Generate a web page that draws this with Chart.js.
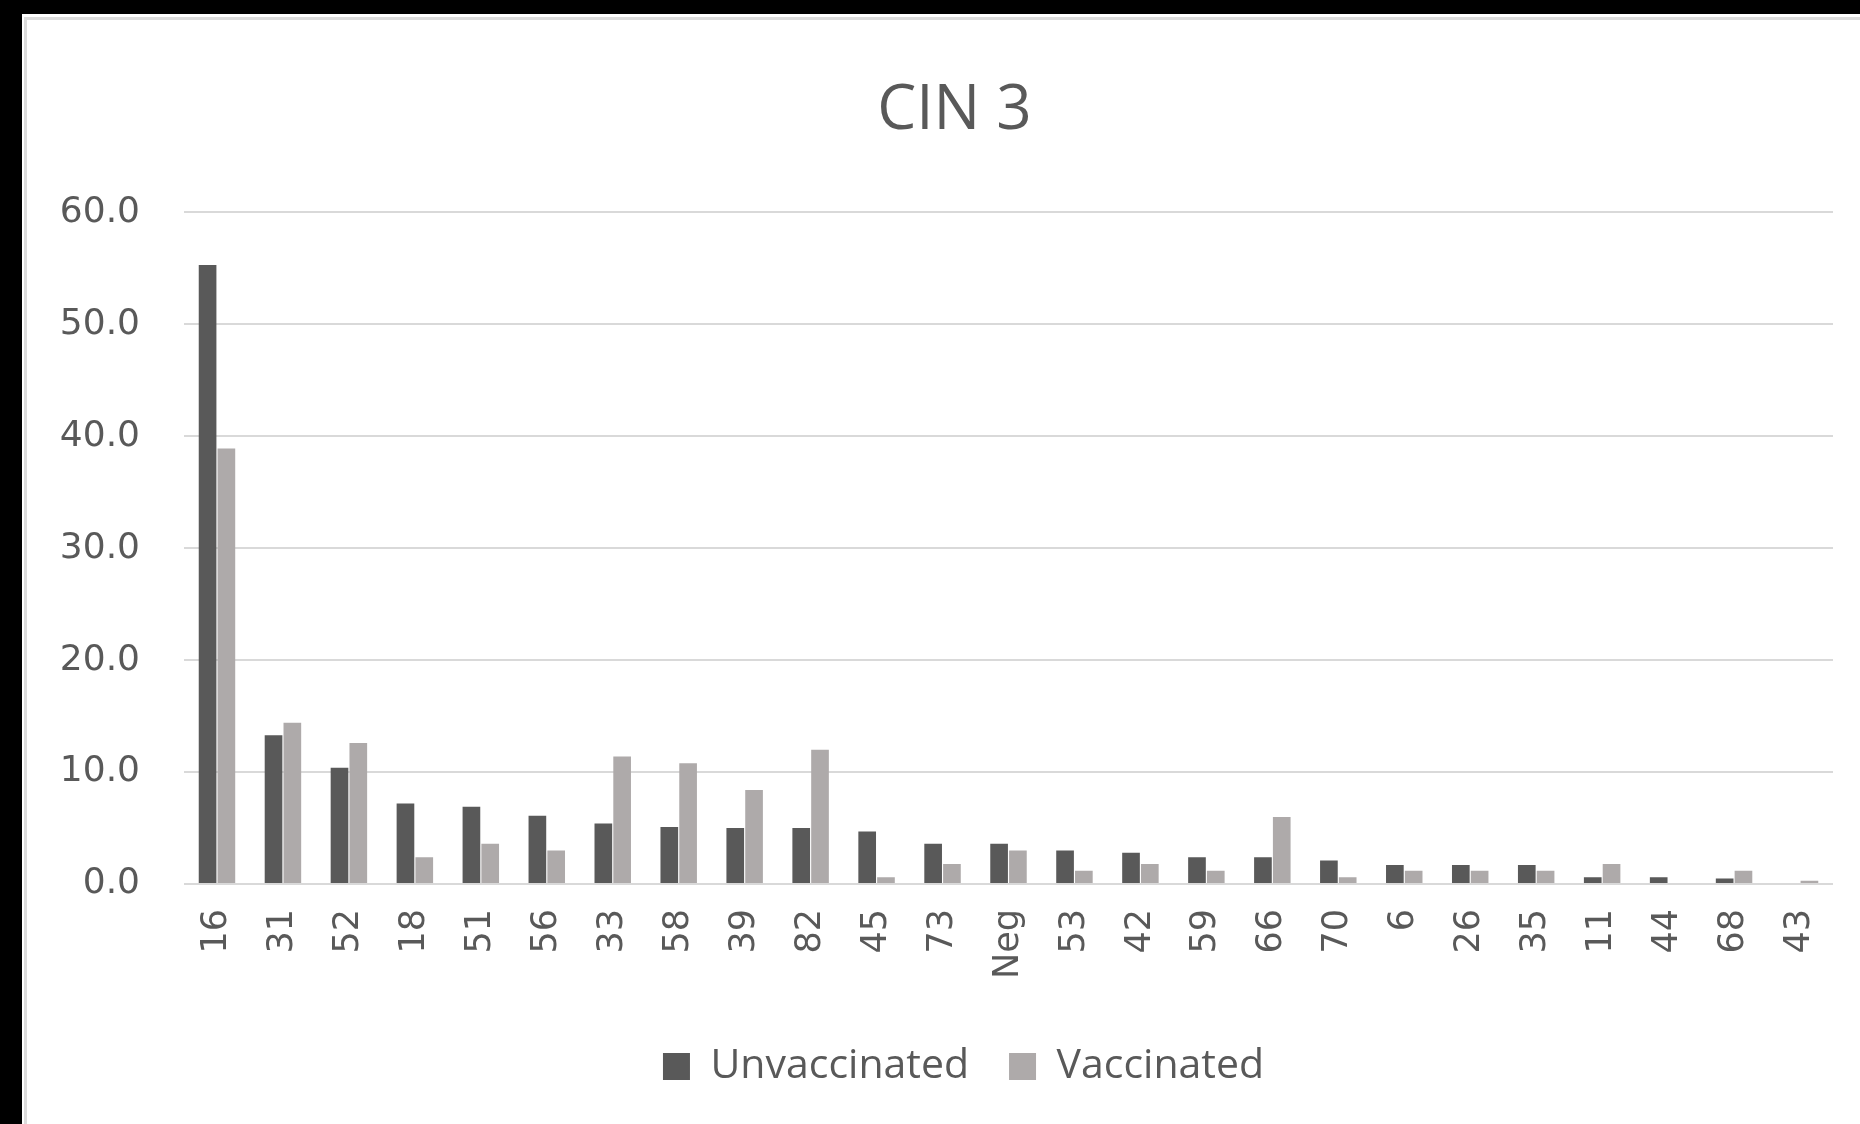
<!DOCTYPE html>
<html>
<head>
<meta charset="utf-8">
<title>CIN 3</title>
<script src="https://cdn.jsdelivr.net/npm/chart.js@4.4.1/dist/chart.umd.min.js"></script>
<style>
  html, body { margin: 0; padding: 0; background: #000; overflow: hidden; }
  #panel { position: absolute; left: 22px; top: 14px; width: 1838px; height: 1110px; background: #fff; }
  #frame { position: absolute; left: 24px; top: 17px; width: 1836px; height: 1107px;
           border-left: 3px solid #dcdcdc; border-top: 3px solid #dcdcdc; box-sizing: border-box; }
  #chartBox { position: absolute; left: 0; top: 0; width: 1860px; height: 1124px; }
</style>
</head>
<body>
<div id="panel"></div>
<div id="frame"></div>
<div id="chartBox"><canvas id="cinChart" width="1860" height="1124"></canvas></div>
<script>
// HPV types, ordered as in the source chart
var hpvTypes = ['16','31','52','18','51','56','33','58','39','82','45','73','Neg',
                '53','42','59','66','70','6','26','35','11','44','68','43'];
// percent of CIN 3 cases
var unvaccinated = [55.3, 13.3, 10.4, 7.2, 6.9, 6.1, 5.4, 5.1, 5.0, 5.0, 4.7, 3.6, 3.6,
                    3.0, 2.8, 2.4, 2.4, 2.1, 1.7, 1.7, 1.7, 0.6, 0.6, 0.5, 0];
var vaccinated   = [38.9, 14.4, 12.6, 2.4, 3.6, 3.0, 11.4, 10.8, 8.4, 12.0, 0.6, 1.8, 3.0,
                    1.2, 1.8, 1.2, 6.0, 0.6, 1.2, 1.2, 1.2, 1.8, 0, 1.2, 0.3];
var yTicks = [0, 10, 20, 30, 40, 50, 60];

var textGrey = '#595959';

// nudge title and legend a little right, like the original sheet chart
var nudgeBlocks = {
  id: 'nudgeBlocks',
  afterLayout: function(chart) {
    if (chart.titleBlock) { chart.titleBlock.left += 9; chart.titleBlock.right += 9; }
    if (chart.legend) { chart.legend.left += 18; chart.legend.right += 18; }
  }
};

new Chart(document.getElementById('cinChart'), {
  type: 'bar',
  data: {
    labels: hpvTypes,
    datasets: [{
      label: 'Unvaccinated',
      data: unvaccinated,
      backgroundColor: '#595959',
      categoryPercentage: 0.57,
      barPercentage: 0.94
    }, {
      label: 'Vaccinated',
      data: vaccinated,
      backgroundColor: '#aeaaaa',
      categoryPercentage: 0.57,
      barPercentage: 0.94
    }]
  },
  plugins: [nudgeBlocks],
  options: {
    responsive: false,
    animation: false,
    layout: { padding: { left: 58, right: 27, top: 0, bottom: 27 } },
    plugins: {
      title: {
        display: true,
        text: 'CIN 3',
        color: textGrey,
        font: { family: 'Open Sans', size: 62, weight: 'normal', lineHeight: 1.2 },
        padding: { top: 74, bottom: 64 }
      },
      legend: {
        position: 'bottom',
        labels: {
          color: textGrey,
          boxWidth: 27,
          boxHeight: 27,
          padding: 40,
          font: { family: 'Open Sans', size: 41 }
        }
      },
      tooltip: { enabled: false }
    },
    scales: {
      x: {
        grid: { display: false, drawTicks: false },
        border: { display: false },
        ticks: {
          color: textGrey,
          maxRotation: 90,
          minRotation: 90,
          autoSkip: false,
          padding: 25,
          font: { family: 'DejaVu Sans', size: 35 }
        },
        afterFit: function(scale) {
          scale.paddingLeft = 0;
          scale.paddingRight = 0;
          scale.height += 2;
        }
      },
      y: {
        min: yTicks[0],
        max: yTicks[yTicks.length - 1],
        grid: { color: '#d9d9d9', lineWidth: 2, drawTicks: false },
        border: { display: false },
        afterBuildTicks: function(scale) {
          scale.ticks = yTicks.map(function(v) { return { value: v }; });
        },
        afterFit: function(scale) { scale.width = 126; },
        ticks: {
          color: textGrey,
          padding: 44,
          font: { family: 'DejaVu Sans', size: 36 },
          callback: function(v) { return Number(v).toFixed(1); }
        }
      }
    }
  }
});
</script>
</body>
</html>
